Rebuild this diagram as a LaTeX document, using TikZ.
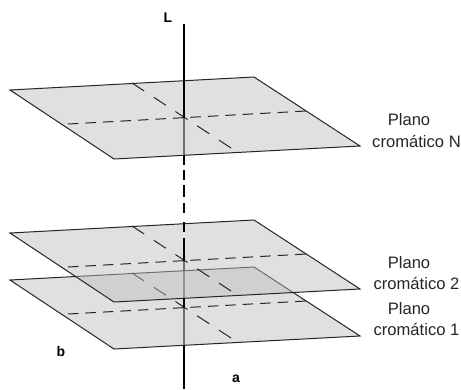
\documentclass[tikz,border=0pt]{standalone}
\usepackage{fontspec}
\setmainfont{Liberation Sans}
\begin{document}
\begin{tikzpicture}[x=1pt,y=-1pt,
  planefill/.style={fill={rgb,255:red,190;green,190;blue,190},fill opacity=.48,draw=none},
  edgeline/.style={draw=black!85,line width=1pt,line join=miter},
  diagdash/.style={draw=black!85,line width=1pt,dash pattern=on 14.5pt off 11.5pt},
  horizdash/.style={draw=black!85,line width=1pt,dash pattern=on 10.5pt off 7pt},
  axis/.style={draw=black,line width=1.6pt},
  axisdim/.style={draw=black!85,line width=1.6pt},
  lab/.style={font=\fontsize{16.6}{16.6}\selectfont,text=black!85,inner sep=0pt},
  axlab/.style={font=\fontsize{14}{14}\selectfont\bfseries,inner sep=0pt}]
\useasboundingbox (0,0) rectangle (461,389);
\newcommand{\chromaplane}[1]{%
  \begin{scope}[yshift=#1pt]
    \coordinate (A) at (10,90);
    \coordinate (B) at (254,77);
    \coordinate (C) at (360,146);
    \coordinate (D) at (114,159);
    \coordinate (E) at (132,83);
    \coordinate (F) at (231,148);
    \coordinate (G) at (68,124);
    \coordinate (H) at (306,111);
    \fill[planefill] (A) -- (B) -- (C) -- (D) -- cycle;
    \draw[edgeline] (A) -- (B) -- (C) -- (D) -- cycle;
    \draw[diagdash] (E) -- (F);
    \draw[horizdash] (G) -- (H);
  \end{scope}}
\coordinate (Ltop) at (184,24);
\coordinate (N1) at (184,118);
\coordinate (N2) at (184,155);
\coordinate (N3) at (184,165);
\coordinate (D1) at (184,170);
\coordinate (D2) at (184,180);
\coordinate (D3) at (184,185);
\coordinate (D4) at (184,197);
\coordinate (D5) at (184,203);
\coordinate (D6) at (184,213);
\coordinate (D7) at (184,222);
\coordinate (D8) at (184,232);
\coordinate (S1) at (184,238);
\coordinate (S2) at (184,261);
\coordinate (S3) at (184,298);
\coordinate (S4) at (184,308);
\coordinate (S5) at (184,345);
\coordinate (Lbot) at (184,389);
% axis parts lying under the planes
\draw[axisdim] (S2) -- (S3);
\draw[axisdim] (S4) -- (S5);
\draw[axisdim] (N1) -- (N2);
% planes, lowest first
\chromaplane{-190}
\chromaplane{-143}
\chromaplane{0}
% axis parts above the planes
\draw[axis] (Ltop) -- (N1);
\draw[axis] (N2) -- (N3);
\draw[axis] (D1) -- (D2);
\draw[axis] (D3) -- (D4);
\draw[axis] (D5) -- (D6);
\draw[axis] (D7) -- (D8);
\draw[axis] (S1) -- (S2);
\draw[axis] (S3) -- (S4);
\draw[axis] (S5) -- (Lbot);
\node[axlab] (Lname) at (168,18) {L};
\node[axlab] (bname) at (61,351) {b};
\node[axlab] (aname) at (236,379) {a};
\node[lab] (p3a) at (409,120) {Plano};
\node[lab] (p3b) at (416.5,141) {cromático N};
\node[lab] (p2a) at (409,263) {Plano};
\node[lab] (p2b) at (416.5,283) {cromático 2};
\node[lab] (p1a) at (409,309) {Plano};
\node[lab] (p1b) at (416.5,329) {cromático 1};
\end{tikzpicture}
\end{document}
